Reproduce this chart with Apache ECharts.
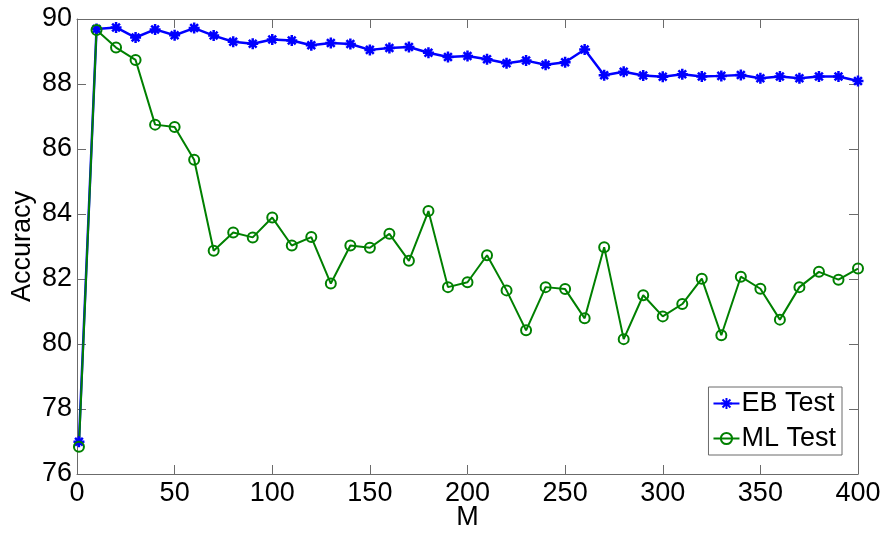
<!DOCTYPE html>
<html>
<head>
<meta charset="utf-8">
<title>Accuracy vs M</title>
<script src="https://cdn.jsdelivr.net/npm/echarts@6/dist/echarts.min.js"></script>
<style>
  html, body { margin: 0; padding: 0; background: #fff; }
  #chart { width: 885px; height: 533px; }
</style>
</head>
<body>
<div id="chart"></div>
<script>
// Values of M at which both models were evaluated
const mValues = [1, 10, 20, 30, 40, 50, 60, 70, 80, 90, 100, 110, 120, 130, 140, 150, 160, 170, 180, 190, 200,
  210, 220, 230, 240, 250, 260, 270, 280, 290, 300, 310, 320, 330, 340, 350, 360, 370, 380, 390, 400];

// Test accuracy (%) of the EB model
const ebTest = [76.99, 89.69, 89.74, 89.43, 89.68, 89.50, 89.72, 89.49, 89.30, 89.24, 89.37,
  89.34, 89.19, 89.26, 89.23, 89.05, 89.11, 89.14, 88.96, 88.83, 88.86,
  88.76, 88.64, 88.72, 88.59, 88.67, 89.06, 88.27, 88.38, 88.26, 88.22,
  88.30, 88.23, 88.25, 88.28, 88.18, 88.23, 88.18, 88.23, 88.23, 88.09];

// Test accuracy (%) of the ML model
const mlTest = [76.84, 89.66, 89.12, 88.74, 86.75, 86.68, 85.67, 82.87, 83.43, 83.28, 83.89,
  83.03, 83.29, 81.86, 83.03, 82.96, 83.39, 82.56, 84.09, 81.75, 81.90,
  82.73, 81.65, 80.42, 81.75, 81.69, 80.79, 82.98, 80.15, 81.50, 80.85,
  81.23, 82.01, 80.27, 82.07, 81.70, 80.75, 81.75, 82.22, 81.98, 82.32];

// Axis ticks
const xTicks = [0, 50, 100, 150, 200, 250, 300, 350, 400];
const yTicks = [76, 78, 80, 82, 84, 86, 88, 90];

const FONT = 'Liberation Sans, Arial, Helvetica, sans-serif';
const AXIS_GRAY = '#6b6b6b';
const BLUE = '#0000ff';
const GREEN = '#008000';

// eight-spoke asterisk marker
const ASTERISK = 'path://M0,-10L0,10M-10,0L10,0M-7.07,-7.07L7.07,7.07M-7.07,7.07L7.07,-7.07';

const pairs = (ys) => mValues.map((m, i) => [m, ys[i]]);

const boxAxis = {
  axisLine: { show: true, onZero: false, lineStyle: { color: AXIS_GRAY, width: 1 } },
  axisTick: { show: true, inside: true, length: 9, lineStyle: { color: AXIS_GRAY, width: 1 } },
  splitLine: { show: false }
};

const chart = echarts.init(document.getElementById('chart'), null, { renderer: 'canvas' });

chart.setOption({
  backgroundColor: '#ffffff',
  animation: false,
  grid: { left: 77, right: 27, top: 19, bottom: 59, containLabel: false, outerBoundsMode: 'none' },
  xAxis: [
    Object.assign({}, boxAxis, {
      type: 'value', position: 'bottom',
      min: xTicks[0], max: xTicks[xTicks.length - 1], interval: xTicks[1] - xTicks[0],
      name: 'M', nameLocation: 'middle', nameGap: 30, nameMoveOverlap: false,
      nameTextStyle: { fontFamily: FONT, fontSize: 27, color: '#000' },
      axisLabel: { fontFamily: FONT, fontSize: 27, color: '#000', margin: 6 }
    }),
    Object.assign({}, boxAxis, {
      type: 'value', position: 'top',
      min: xTicks[0], max: xTicks[xTicks.length - 1], interval: xTicks[1] - xTicks[0],
      axisLabel: { show: false }
    })
  ],
  yAxis: [
    Object.assign({}, boxAxis, {
      type: 'value', position: 'left',
      min: yTicks[0], max: yTicks[yTicks.length - 1], interval: yTicks[1] - yTicks[0],
      name: 'Accuracy', nameLocation: 'middle', nameGap: 41, nameMoveOverlap: false,
      nameTextStyle: { fontFamily: FONT, fontSize: 27, color: '#000' },
      axisLabel: { fontFamily: FONT, fontSize: 27, color: '#000', margin: 5 }
    }),
    Object.assign({}, boxAxis, {
      type: 'value', position: 'right',
      min: yTicks[0], max: yTicks[yTicks.length - 1], interval: yTicks[1] - yTicks[0],
      axisLabel: { show: false }
    })
  ],
  legend: {
    right: 43, bottom: 78,
    orient: 'vertical',
    backgroundColor: '#ffffff',
    borderColor: '#6b6b6b', borderWidth: 1, borderRadius: 0,
    padding: [3, 6, 3, 4],
    itemGap: 8, itemWidth: 26, itemHeight: 14,
    textStyle: { fontFamily: FONT, fontSize: 27, color: '#000', padding: [0, 0, 0, -3] },
    data: ['EB Test', 'ML Test']
  },
  series: [
    {
      name: 'EB Test', type: 'line', data: pairs(ebTest),
      xAxisIndex: 0, yAxisIndex: 0,
      symbol: ASTERISK, symbolSize: 11, showAllSymbol: true,
      lineStyle: { color: BLUE, width: 2.5 },
      itemStyle: { color: BLUE, borderColor: BLUE, borderWidth: 2.5 }
    },
    {
      name: 'ML Test', type: 'line', data: pairs(mlTest),
      xAxisIndex: 0, yAxisIndex: 0,
      symbol: 'circle', symbolSize: 10, showAllSymbol: true,
      lineStyle: { color: GREEN, width: 2 },
      itemStyle: { color: 'rgba(255,255,255,0)', borderColor: GREEN, borderWidth: 2 }
    }
  ]
});
</script>
</body>
</html>
